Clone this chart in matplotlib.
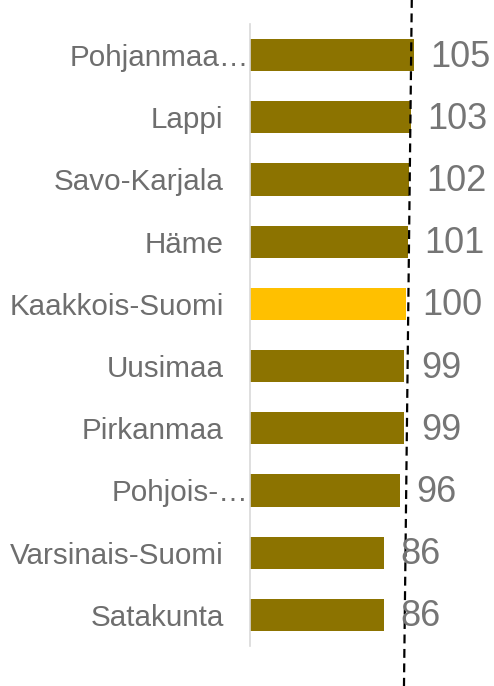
import matplotlib.pyplot as plt
import matplotlib.transforms as mtransforms

# data, top to bottom
regions = ['Pohjanmaa…', 'Lappi', 'Savo-Karjala', 'Häme', 'Kaakkois-Suomi',
           'Uusimaa', 'Pirkanmaa', 'Pohjois-…', 'Varsinais-Suomi', 'Satakunta']
values = [105, 103, 102, 101, 100, 99, 99, 96, 86, 86]
highlight = 'Kaakkois-Suomi'

plt.rcParams['font.family'] = ['Liberation Sans', 'DejaVu Sans']

fig = plt.figure(figsize=(4.94, 6.86), dpi=100)
ax = fig.add_axes([250 / 494, 1 - 646 / 686, 244 / 494, 622 / 686])

pos = list(range(len(regions)))
colors = ['#ffc000' if r == highlight else '#8c7300' for r in regions]
ax.barh(pos, values, height=0.52, color=colors)

for p, v in zip(pos, values):
    ax.annotate(str(v), (v, p), xytext=(12, -1.5), textcoords='offset points',
                va='center', ha='left', fontsize=26, color='#757575')

ax.set_xlim(0, 244 / 1.56)
ax.set_ylim(len(regions) - 0.5, -0.5)
ax.set_yticks(pos)
ax.set_yticklabels(regions, fontsize=21.3, color='#6e6e6e')
ax.tick_params(axis='y', length=0, pad=19)
ax.set_xticks([])
for s in ['top', 'right', 'bottom']:
    ax.spines[s].set_visible(False)
ax.spines['left'].set_color('#d9d9d9')
ax.spines['left'].set_linewidth(1.2)

# truncated labels overflow towards the axis in the original
shift = mtransforms.ScaledTranslation(25 / 100, 0, fig.dpi_scale_trans)
for lbl in ax.get_yticklabels():
    if lbl.get_text().endswith('…'):
        lbl.set_transform(lbl.get_transform() + shift)

# reference line (slightly slanted in the original)
ax.plot([103.8, 98.7], [-1.1, 10.15], color='black', linestyle='--',
        linewidth=1.6, dashes=(4, 2.5), clip_on=False)

fig.savefig('out.png', dpi=100)
